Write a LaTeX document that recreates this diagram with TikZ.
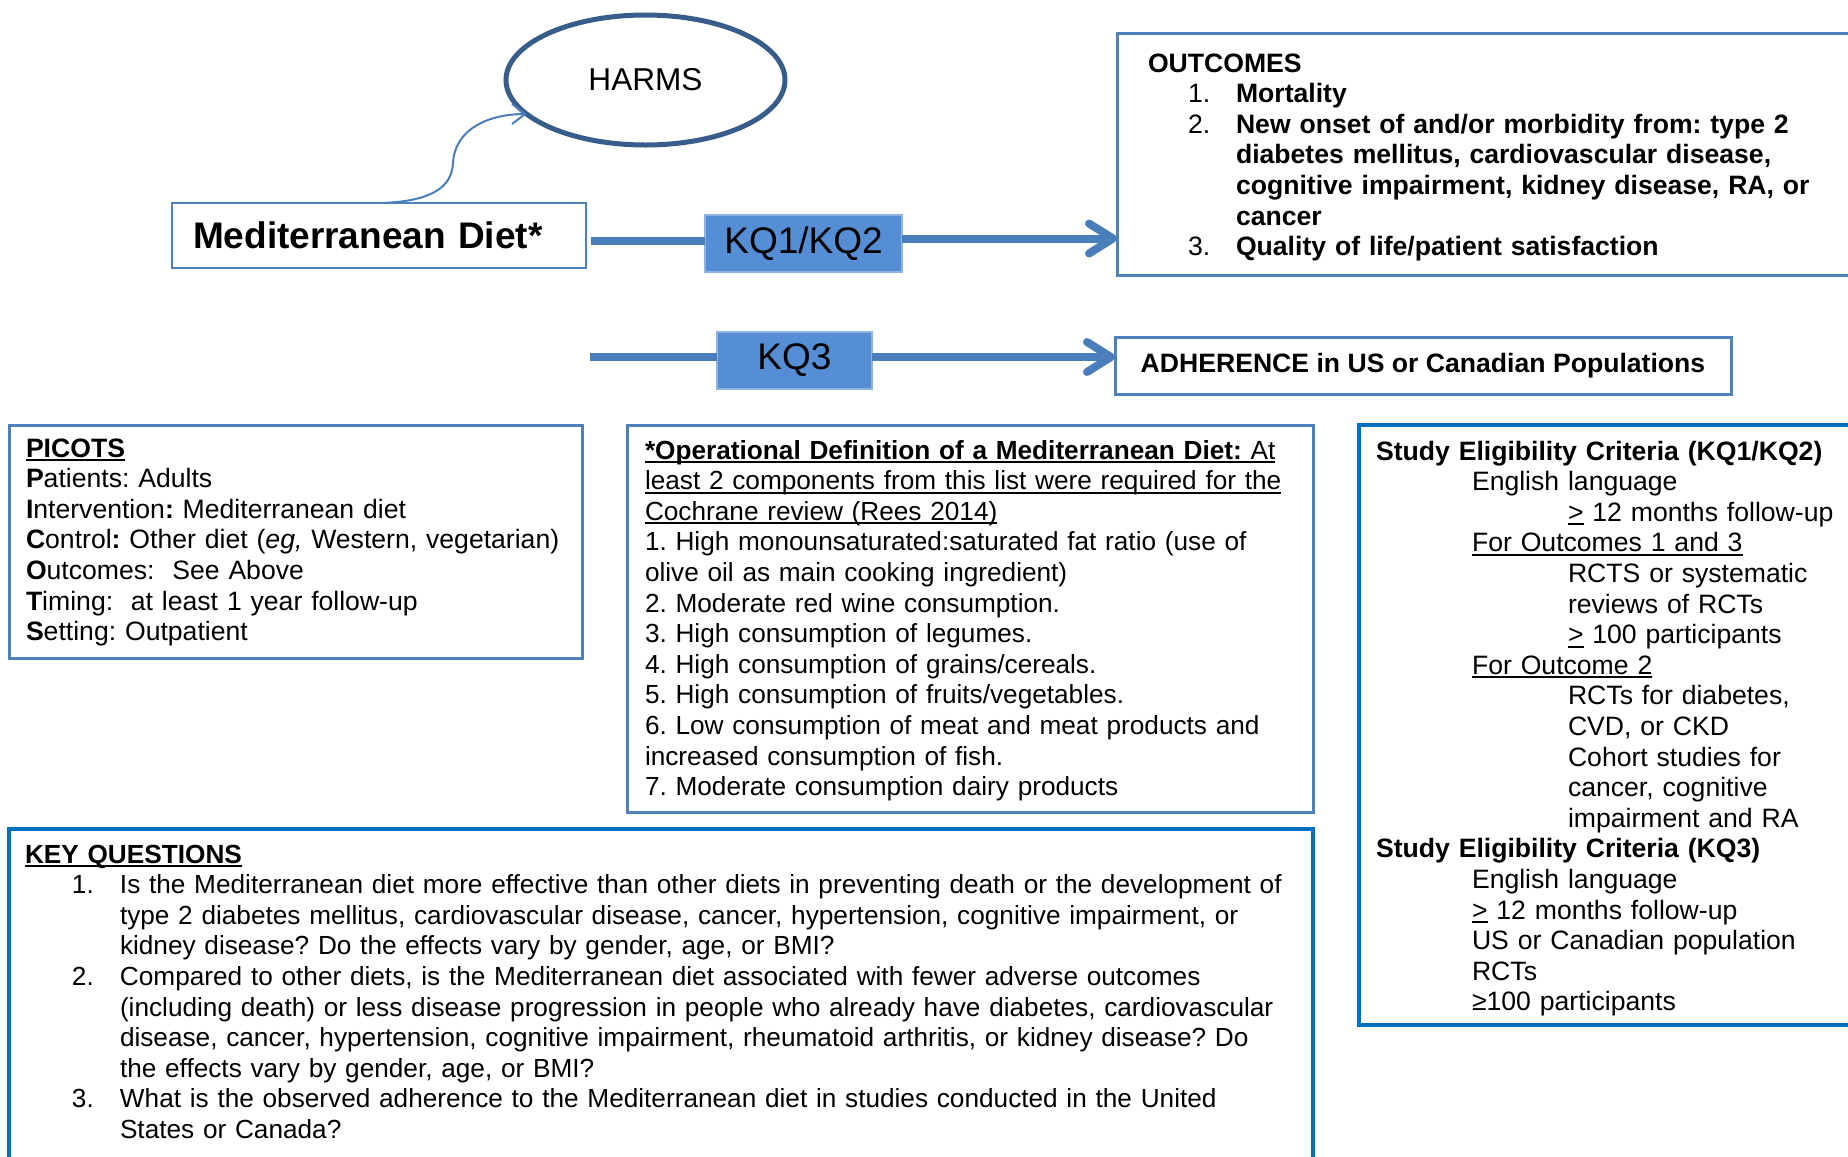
\documentclass[tikz,border=0pt]{standalone}
\usepackage{fontspec}
\setmainfont{Liberation Sans}
\usetikzlibrary{arrows.meta,shapes.geometric}
\frenchspacing
\definecolor{boxblue}{HTML}{4F81BD}
\definecolor{connblue}{HTML}{4A7EBB}
\definecolor{ellblue}{HTML}{385D8A}
\definecolor{strongblue}{HTML}{0070C0}
\definecolor{kqfill}{HTML}{558ED5}
\definecolor{kqedge}{HTML}{8EB4E3}
\newcommand\myul[1]{\leavevmode\setbox0\hbox{#1}\rlap{\rule[-4pt]{\wd0}{1.8pt}}\box0\relax}
\newcommand\numA[1]{\hspace*{40pt}\makebox[48pt][l]{#1}}
\newcommand\indA{\hspace*{88pt}}
\newcommand\numK[1]{\hspace*{47pt}\makebox[48pt][l]{#1}}
\newcommand\indK{\hspace*{95pt}}
\newcommand\lvA{\hspace*{96pt}}
\newcommand\lvB{\hspace*{192pt}}
\tikzset{
  every node/.style={inner sep=0pt, outer sep=0pt},
  frame/.style={rectangle, draw=boxblue, line width=3pt},
  strongframe/.style={rectangle, draw=strongblue, line width=3.5pt},
  kqbox/.style={rectangle, fill=kqfill, draw=kqedge, line width=1.5pt, font=\fontsize{37}{40}\selectfont},
  body/.style={anchor=base west, align=left, font=\fontsize{26.6}{30.6}\selectfont},
  conn/.style={draw=connblue, line width=8pt, line cap=round},
  chev/.style={-{Straight Barb[length=24pt,width=30pt,round]}},
}
\begin{document}
\begin{tikzpicture}[x=1pt,y=-1pt]
\path[use as bounding box] (0,0) rectangle (1848,1157);
\clip (0,0) rectangle (1848,1157);

% boxes
\node[ellipse, draw=ellblue, line width=5pt, minimum width=279pt, minimum height=130pt, font=\fontsize{31.6}{34}\selectfont] (harms) at (645.5,80) {HARMS};
\node[rectangle, draw=boxblue, line width=2pt, minimum width=414pt, minimum height=65pt, text width=372pt, align=left, font=\fontsize{37}{40}\selectfont\bfseries] (med) at (379,235.5) {Mediterranean Diet*};
\node[kqbox, minimum width=197pt, minimum height=57pt] (kq12) at (803.5,243.5) {KQ1/KQ2};
\node[kqbox, minimum width=155pt, minimum height=57pt] (kq3) at (794.5,360.5) {KQ3};
\node[frame, minimum width=783pt, minimum height=242pt] (outc) at (1508.5,154) {};
\node[frame, minimum width=616pt, minimum height=57pt, font=\fontsize{26.6}{30.6}\selectfont\bfseries] (adh) at (1423,365.5) {ADHERENCE in US or Canadian Populations};
\node[frame, minimum width=573pt, minimum height=233pt] (pic) at (295.5,541.5) {};
\node[frame, minimum width=686pt, minimum height=387pt] (opd) at (970,618.5) {};
\node[strongframe, minimum width=541pt, minimum height=600pt] (stud) at (1629.5,725) {};
\node[strongframe, minimum width=1304pt, minimum height=371pt] (keyq) at (661,1014.5) {};

% connectors
\draw[conn, line cap=butt] ([xshift=5pt,yshift=-5.5pt]med.east) -- ([yshift=-5.5pt]med.east -| kq12.west);
\draw[conn, line cap=butt, chev] ([yshift=5pt]kq12.east) -- ([yshift=5pt]kq12.east -| outc.west);
\coordinate (kq3in) at (590,357);
\draw[conn, line cap=butt] (kq3in) -- (kq3in -| kq3.west);
\draw[conn, line cap=butt, chev] ([yshift=3.5pt]kq3.east) -- ([yshift=3.5pt]kq3.east -| adh.west);
\draw[draw=connblue, line width=2pt, -{Straight Barb[length=13pt,width=20pt]}] ([xshift=4pt]med.north) .. controls (430,201) and (452,188) .. (453,163) .. controls (455,128) and (490,114) .. (harms.196);

% texts
\node[body, text width=700pt] (outT) at (1148,72) {\textbf{OUTCOMES}\\
\numA{1.}\textbf{Mortality}\\
\numA{2.}\textbf{New onset of and/or morbidity from: type 2}\\
\indA\textbf{diabetes mellitus, cardiovascular disease,}\\
\indA\textbf{cognitive impairment, kidney disease, RA, or}\\
\indA\textbf{cancer}\\
\numA{3.}\textbf{Quality of life/patient satisfaction}};

\node[body, text width=560pt] (picT) at (26,457) {\myul{\textbf{PICOTS}}\\
\textbf{P}atients: Adults\\
\textbf{I}ntervention\textbf{:} Mediterranean diet\\
\textbf{C}ontrol\textbf{:} Other diet (\textit{eg,} Western, vegetarian)\\
\textbf{O}utcomes:\ \ See Above\\
\textbf{T}iming:\ \ at least 1 year follow-up\\
\textbf{S}etting: Outpatient};

\node[body, text width=680pt, font=\fontsize{26.2}{30.6}\selectfont] (opT) at (645,459) {\myul{\textbf{*Operational Definition of a Mediterranean Diet:} At}\\
\myul{least 2 components from this list were required for the}\\
\myul{Cochrane review (Rees 2014)}\\
1. High monounsaturated:saturated fat ratio (use of\\
olive oil as main cooking ingredient)\\
2. Moderate red wine consumption.\\
3. High consumption of legumes.\\
4. High consumption of grains/cereals.\\
5. High consumption of fruits/vegetables.\\
6. Low consumption of meat and meat products and\\
increased consumption of fish.\\
7. Moderate consumption dairy products};

\node[body, text width=480pt] (stT) at (1376,460) {\textbf{Study Eligibility Criteria (KQ1/KQ2)}\\
\lvA English language\\
\lvB\myul{>} 12 months follow-up\\
\lvA\myul{For Outcomes 1 and 3}\\
\lvB RCTS or systematic\\
\lvB reviews of RCTs\\
\lvB\myul{>} 100 participants\\
\lvA\myul{For Outcome 2}\\
\lvB RCTs for diabetes,\\
\lvB CVD, or CKD\\
\lvB Cohort studies for\\
\lvB cancer, cognitive\\
\lvB impairment and RA\\
\textbf{Study Eligibility Criteria (KQ3)}\\
\lvA English language\\
\lvA\myul{>} 12 months follow-up\\
\lvA US or Canadian population\\
\lvA RCTs\\
\lvA ≥100 participants};

\node[body, text width=1280pt, font=\fontsize{26.2}{30.6}\selectfont] (kqT) at (25,863) {\myul{\textbf{KEY QUESTIONS}}\\
\numK{1.}Is the Mediterranean diet more effective than other diets in preventing death or the development of\\
\indK type 2 diabetes mellitus, cardiovascular disease, cancer, hypertension, cognitive impairment, or\\
\indK kidney disease? Do the effects vary by gender, age, or BMI?\\
\numK{2.}Compared to other diets, is the Mediterranean diet associated with fewer adverse outcomes\\
\indK (including death) or less disease progression in people who already have diabetes, cardiovascular\\
\indK disease, cancer, hypertension, cognitive impairment, rheumatoid arthritis, or kidney disease? Do\\
\indK the effects vary by gender, age, or BMI?\\
\numK{3.}What is the observed adherence to the Mediterranean diet in studies conducted in the United\\
\indK States or Canada?};
\end{tikzpicture}
\end{document}
